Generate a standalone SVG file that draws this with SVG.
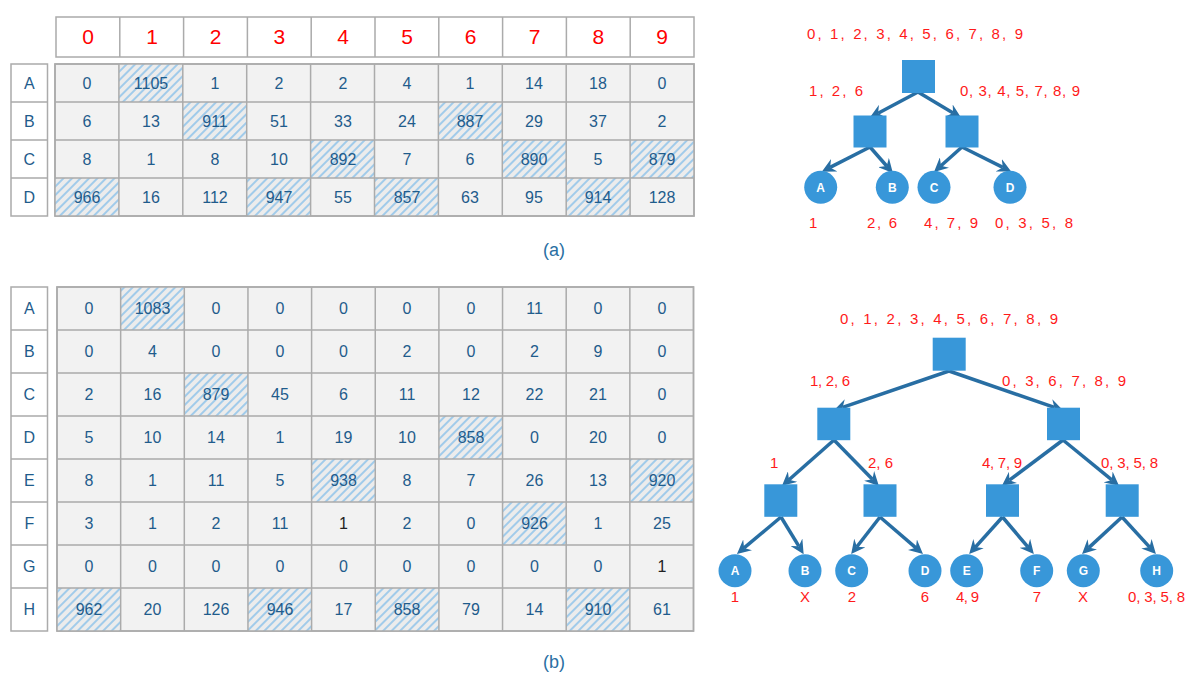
<svg xmlns="http://www.w3.org/2000/svg" width="1200" height="684" viewBox="0 0 1200 684">
<style>
text{font-family:"Liberation Sans",Arial,sans-serif}
.num{font-size:16px;fill:#1f5c8c;text-anchor:middle}
.dk{fill:#222}
.hdr{font-size:21px;fill:#ff0000;text-anchor:middle}
.rl{font-size:16px;fill:#1f5c8c;text-anchor:middle}
.body{fill:#f2f2f2;stroke:#ababab;stroke-width:1.5}
.white{fill:#ffffff;stroke:#ababab;stroke-width:1.5}
.grid{fill:none;stroke:#ababab;stroke-width:1.5}
.hat{fill:url(#hatch)}
.lbl{font-size:15px;fill:#ff1a1a}
.cap{font-size:18px;fill:#2a6fa3;text-anchor:middle}
.sq{fill:#3897d9}
.leaf{fill:#3897d9}
.lt{font-size:12px;font-weight:bold;fill:#ffffff;text-anchor:middle}
.edge{stroke:#286ea3;stroke-width:3.5;fill:none;marker-end:url(#arr)}
</style>
<defs>
<pattern id="hatch" patternUnits="userSpaceOnUse" width="6" height="6" patternTransform="rotate(45)">
<rect width="6" height="6" fill="#ececec"/>
<line x1="3" y1="0" x2="3" y2="6" stroke="#88c0ea" stroke-width="1.5"/>
</pattern>
<marker id="arr" viewBox="0 0 12 12" markerWidth="14" markerHeight="14" markerUnits="userSpaceOnUse" refX="4" refY="6" orient="auto">
<path d="M0,0 L12,6 L0,12 L4,6 z" fill="#286ea3"/>
</marker>
</defs>
<rect width="1200" height="684" fill="#ffffff"/>

<!-- Table (a) -->
<g id="table-a">
<rect class="white" x="56" y="17" width="638" height="40"/>
<path class="grid" d="M119.8,17V57M183.6,17V57M247.4,17V57M311.2,17V57M375,17V57M438.8,17V57M502.6,17V57M566.4,17V57M630.2,17V57"/>
<g class="hdr">
<text x="88" y="44">0</text><text x="152" y="44">1</text><text x="215.5" y="44">2</text><text x="279.3" y="44">3</text><text x="343" y="44">4</text><text x="407" y="44">5</text><text x="470.7" y="44">6</text><text x="534.5" y="44">7</text><text x="598.3" y="44">8</text><text x="662" y="44">9</text>
</g>
<rect class="white" x="11" y="64" width="36.5" height="152"/>
<path class="grid" d="M11,102H47.5M11,140H47.5M11,178H47.5"/>
<g class="rl"><text x="29.3" y="89">A</text><text x="29.3" y="127">B</text><text x="29.3" y="165">C</text><text x="29.3" y="203">D</text></g>
<rect class="body" x="55" y="64" width="639" height="152"/>
<rect class="hat" x="118.9" y="64" width="63.9" height="38"/>
<rect class="hat" x="182.8" y="102" width="63.9" height="38"/>
<rect class="hat" x="438.4" y="102" width="63.9" height="38"/>
<rect class="hat" x="310.6" y="140" width="63.9" height="38"/>
<rect class="hat" x="502.3" y="140" width="63.9" height="38"/>
<rect class="hat" x="630.1" y="140" width="63.9" height="38"/>
<rect class="hat" x="55" y="178" width="63.9" height="38"/>
<rect class="hat" x="246.7" y="178" width="63.9" height="38"/>
<rect class="hat" x="374.5" y="178" width="63.9" height="38"/>
<rect class="hat" x="566.2" y="178" width="63.9" height="38"/>
<path class="grid" d="M55,64H694V216H55ZM55,102H694M55,140H694M55,178H694M118.9,64V216M182.8,64V216M246.7,64V216M310.6,64V216M374.5,64V216M438.4,64V216M502.3,64V216M566.2,64V216M630.1,64V216"/>
<g class="num">
<text x="87" y="88.5">0</text><text x="151" y="88.5">1105</text><text x="215" y="88.5">1</text><text x="279" y="88.5">2</text><text x="343" y="88.5">2</text><text x="407" y="88.5">4</text><text x="470" y="88.5">1</text><text x="534" y="88.5">14</text><text x="598" y="88.5">18</text><text x="662" y="88.5">0</text>
<text x="87" y="126.5">6</text><text x="151" y="126.5">13</text><text x="215" y="126.5">911</text><text x="279" y="126.5">51</text><text x="343" y="126.5">33</text><text x="407" y="126.5">24</text><text x="470" y="126.5">887</text><text x="534" y="126.5">29</text><text x="598" y="126.5">37</text><text x="662" y="126.5">2</text>
<text x="87" y="164.5">8</text><text x="151" y="164.5">1</text><text x="215" y="164.5">8</text><text x="279" y="164.5">10</text><text x="343" y="164.5">892</text><text x="407" y="164.5">7</text><text x="470" y="164.5">6</text><text x="534" y="164.5">890</text><text x="598" y="164.5">5</text><text x="662" y="164.5">879</text>
<text x="87" y="202.5">966</text><text x="151" y="202.5">16</text><text x="215" y="202.5">112</text><text x="279" y="202.5">947</text><text x="343" y="202.5">55</text><text x="407" y="202.5">857</text><text x="470" y="202.5">63</text><text x="534" y="202.5">95</text><text x="598" y="202.5">914</text><text x="662" y="202.5">128</text>
</g>
</g>
<text class="cap" x="554" y="256">(a)</text>

<!-- Table (b) -->
<g id="table-b">
<rect class="white" x="11" y="287" width="36.5" height="344"/>
<path class="grid" d="M11,330H47.5M11,373H47.5M11,416H47.5M11,459H47.5M11,502H47.5M11,545H47.5M11,588H47.5"/>
<g class="rl"><text x="29.3" y="314">A</text><text x="29.3" y="357">B</text><text x="29.3" y="400">C</text><text x="29.3" y="443">D</text><text x="29.3" y="486">E</text><text x="29.3" y="529">F</text><text x="29.3" y="572">G</text><text x="29.3" y="615">H</text></g>
<rect class="body" x="57" y="287" width="636.5" height="344"/>
<rect class="hat" x="120.65" y="287" width="63.65" height="43"/>
<rect class="hat" x="184.3" y="373" width="63.65" height="43"/>
<rect class="hat" x="438.9" y="416" width="63.65" height="43"/>
<rect class="hat" x="311.6" y="459" width="63.65" height="43"/>
<rect class="hat" x="629.85" y="459" width="63.65" height="43"/>
<rect class="hat" x="502.55" y="502" width="63.65" height="43"/>
<rect class="hat" x="57" y="588" width="63.65" height="43"/>
<rect class="hat" x="247.95" y="588" width="63.65" height="43"/>
<rect class="hat" x="375.25" y="588" width="63.65" height="43"/>
<rect class="hat" x="566.2" y="588" width="63.65" height="43"/>
<path class="grid" d="M57,287H693.5V631H57ZM57,330H693.5M57,373H693.5M57,416H693.5M57,459H693.5M57,502H693.5M57,545H693.5M57,588H693.5M120.65,287V631M184.3,287V631M247.95,287V631M311.6,287V631M375.25,287V631M438.9,287V631M502.55,287V631M566.2,287V631M629.85,287V631"/>
<g class="num">
<text x="89" y="314">0</text><text x="152.5" y="314">1083</text><text x="216" y="314">0</text><text x="280" y="314">0</text><text x="343.5" y="314">0</text><text x="407" y="314">0</text><text x="471" y="314">0</text><text x="534.5" y="314">11</text><text x="598" y="314">0</text><text x="662" y="314">0</text>
<text x="89" y="357">0</text><text x="152.5" y="357">4</text><text x="216" y="357">0</text><text x="280" y="357">0</text><text x="343.5" y="357">0</text><text x="407" y="357">2</text><text x="471" y="357">0</text><text x="534.5" y="357">2</text><text x="598" y="357">9</text><text x="662" y="357">0</text>
<text x="89" y="400">2</text><text x="152.5" y="400">16</text><text x="216" y="400">879</text><text x="280" y="400">45</text><text x="343.5" y="400">6</text><text x="407" y="400">11</text><text x="471" y="400">12</text><text x="534.5" y="400">22</text><text x="598" y="400">21</text><text x="662" y="400">0</text>
<text x="89" y="443">5</text><text x="152.5" y="443">10</text><text x="216" y="443">14</text><text x="280" y="443">1</text><text x="343.5" y="443">19</text><text x="407" y="443">10</text><text x="471" y="443">858</text><text x="534.5" y="443">0</text><text x="598" y="443">20</text><text x="662" y="443">0</text>
<text x="89" y="486">8</text><text x="152.5" y="486">1</text><text x="216" y="486">11</text><text x="280" y="486">5</text><text x="343.5" y="486">938</text><text x="407" y="486">8</text><text x="471" y="486">7</text><text x="534.5" y="486">26</text><text x="598" y="486">13</text><text x="662" y="486">920</text>
<text x="89" y="529">3</text><text x="152.5" y="529">1</text><text x="216" y="529">2</text><text x="280" y="529">11</text><text class="dk" x="343.5" y="529">1</text><text x="407" y="529">2</text><text x="471" y="529">0</text><text x="534.5" y="529">926</text><text x="598" y="529">1</text><text x="662" y="529">25</text>
<text x="89" y="572">0</text><text x="152.5" y="572">0</text><text x="216" y="572">0</text><text x="280" y="572">0</text><text x="343.5" y="572">0</text><text x="407" y="572">0</text><text x="471" y="572">0</text><text x="534.5" y="572">0</text><text x="598" y="572">0</text><text class="dk" x="662" y="572">1</text>
<text x="89" y="615">962</text><text x="152.5" y="615">20</text><text x="216" y="615">126</text><text x="280" y="615">946</text><text x="343.5" y="615">17</text><text x="407" y="615">858</text><text x="471" y="615">79</text><text x="534.5" y="615">14</text><text x="598" y="615">910</text><text x="662" y="615">61</text>
</g>
</g>
<text class="cap" x="554" y="668">(b)</text>

<!-- Tree (a) connectors -->
<g id="edges-a">
<path class="edge" d="M918,92L878.1,113.2"/>
<path class="edge" d="M918,92L953.1,112.9"/>
<path class="edge" d="M870,147L830.1,167.4"/>
<path class="edge" d="M870,147L886.7,166"/>
<path class="edge" d="M962,147L941,165.7"/>
<path class="edge" d="M962,147L1002.8,167.4"/>
</g>
<!-- Tree (a) nodes -->
<g id="a-root"><rect class="sq" x="902" y="60" width="33" height="33"/></g>
<g id="a-left"><rect class="sq" x="853.5" y="115.5" width="33" height="32"/></g>
<g id="a-right"><rect class="sq" x="945.5" y="115.5" width="33" height="32"/></g>
<g id="a-A"><circle class="leaf" cx="820.7" cy="187.3" r="16.5"/><text class="lt" x="820.7" y="191.6">A</text></g>
<g id="a-B"><circle class="leaf" cx="892.3" cy="187.3" r="16.5"/><text class="lt" x="892.3" y="191.6">B</text></g>
<g id="a-C"><circle class="leaf" cx="934" cy="187.3" r="16.5"/><text class="lt" x="934" y="191.6">C</text></g>
<g id="a-D"><circle class="leaf" cx="1010" cy="187.3" r="16.5"/><text class="lt" x="1010" y="191.6">D</text></g>
<g id="a-labels" class="lbl">
<text x="807" y="39" textLength="216" lengthAdjust="spacing">0, 1, 2, 3, 4, 5, 6, 7, 8, 9</text>
<text x="809" y="96" textLength="54" lengthAdjust="spacing">1, 2, 6</text>
<text x="960" y="96" textLength="120" lengthAdjust="spacing">0, 3, 4, 5, 7, 8, 9</text>
<text x="809" y="228">1</text>
<text x="867" y="228" textLength="30" lengthAdjust="spacing">2, 6</text>
<text x="924" y="228" textLength="54" lengthAdjust="spacing">4, 7, 9</text>
<text x="995" y="228" textLength="78" lengthAdjust="spacing">0, 3, 5, 8</text>
</g>

<!-- Tree (b) connectors -->
<g id="edges-b">
<path class="edge" d="M949,371L842.6,407.4"/>
<path class="edge" d="M949,371L1054.4,407.4"/>
<path class="edge" d="M834,440L789,479.7"/>
<path class="edge" d="M834,440L872.4,479.3"/>
<path class="edge" d="M1063,440L1009.4,480.2"/>
<path class="edge" d="M1063,440L1111.8,479.9"/>
<path class="edge" d="M781,517L744.1,547.9"/>
<path class="edge" d="M781,517L798.8,546.2"/>
<path class="edge" d="M880,517L856.9,546.7"/>
<path class="edge" d="M880,517L915.9,547.8"/>
<path class="edge" d="M1002.5,517L975.4,547.1"/>
<path class="edge" d="M1002.5,517L1027.8,546.9"/>
<path class="edge" d="M1122,517L1088.9,547.6"/>
<path class="edge" d="M1122,517L1149.6,547.1"/>
</g>
<!-- Tree (b) nodes -->
<g id="b-root"><rect class="sq" x="932.7" y="337.7" width="33" height="33"/></g>
<g id="b-l"><rect class="sq" x="817.3" y="407.7" width="33" height="32.5"/></g>
<g id="b-r"><rect class="sq" x="1047" y="407.7" width="33" height="32.5"/></g>
<g id="b-ll"><rect class="sq" x="764.3" y="484.3" width="33" height="32.5"/></g>
<g id="b-lr"><rect class="sq" x="863.5" y="484.3" width="33" height="32.5"/></g>
<g id="b-rl"><rect class="sq" x="986" y="484.3" width="33" height="32.5"/></g>
<g id="b-rr"><rect class="sq" x="1105.7" y="484.3" width="33" height="32.5"/></g>
<g id="b-A"><circle class="leaf" cx="735" cy="570.7" r="16.5"/><text class="lt" x="735" y="575">A</text></g>
<g id="b-B"><circle class="leaf" cx="805" cy="570.7" r="16.5"/><text class="lt" x="805" y="575">B</text></g>
<g id="b-C"><circle class="leaf" cx="851.7" cy="570.7" r="16.5"/><text class="lt" x="851.7" y="575">C</text></g>
<g id="b-D"><circle class="leaf" cx="925" cy="570.7" r="16.5"/><text class="lt" x="925" y="575">D</text></g>
<g id="b-E"><circle class="leaf" cx="966.7" cy="570.7" r="16.5"/><text class="lt" x="966.7" y="575">E</text></g>
<g id="b-F"><circle class="leaf" cx="1036.7" cy="570.7" r="16.5"/><text class="lt" x="1036.7" y="575">F</text></g>
<g id="b-G"><circle class="leaf" cx="1083.3" cy="570.7" r="16.5"/><text class="lt" x="1083.3" y="575">G</text></g>
<g id="b-H"><circle class="leaf" cx="1156.7" cy="570.7" r="16.5"/><text class="lt" x="1156.7" y="575">H</text></g>
<g id="b-labels" class="lbl">
<text x="840" y="324" textLength="218" lengthAdjust="spacing">0, 1, 2, 3, 4, 5, 6, 7, 8, 9</text>
<text x="810" y="386" textLength="40" lengthAdjust="spacing">1, 2, 6</text>
<text x="1002" y="386" textLength="124" lengthAdjust="spacing">0, 3, 6, 7, 8, 9</text>
<text x="770" y="468">1</text>
<text x="868" y="468" textLength="25" lengthAdjust="spacing">2, 6</text>
<text x="982" y="468" textLength="40" lengthAdjust="spacing">4, 7, 9</text>
<text x="1101" y="468" textLength="57" lengthAdjust="spacing">0, 3, 5, 8</text>
<g text-anchor="middle">
<text x="735" y="602">1</text>
<text x="805" y="602">X</text>
<text x="852" y="602">2</text>
<text x="925" y="602">6</text>
<text x="1037" y="602">7</text>
<text x="1083" y="602">X</text>
</g>
<text x="956" y="602" textLength="23" lengthAdjust="spacing">4, 9</text>
<text x="1128" y="602" textLength="57" lengthAdjust="spacing">0, 3, 5, 8</text>
</g>
</svg>
